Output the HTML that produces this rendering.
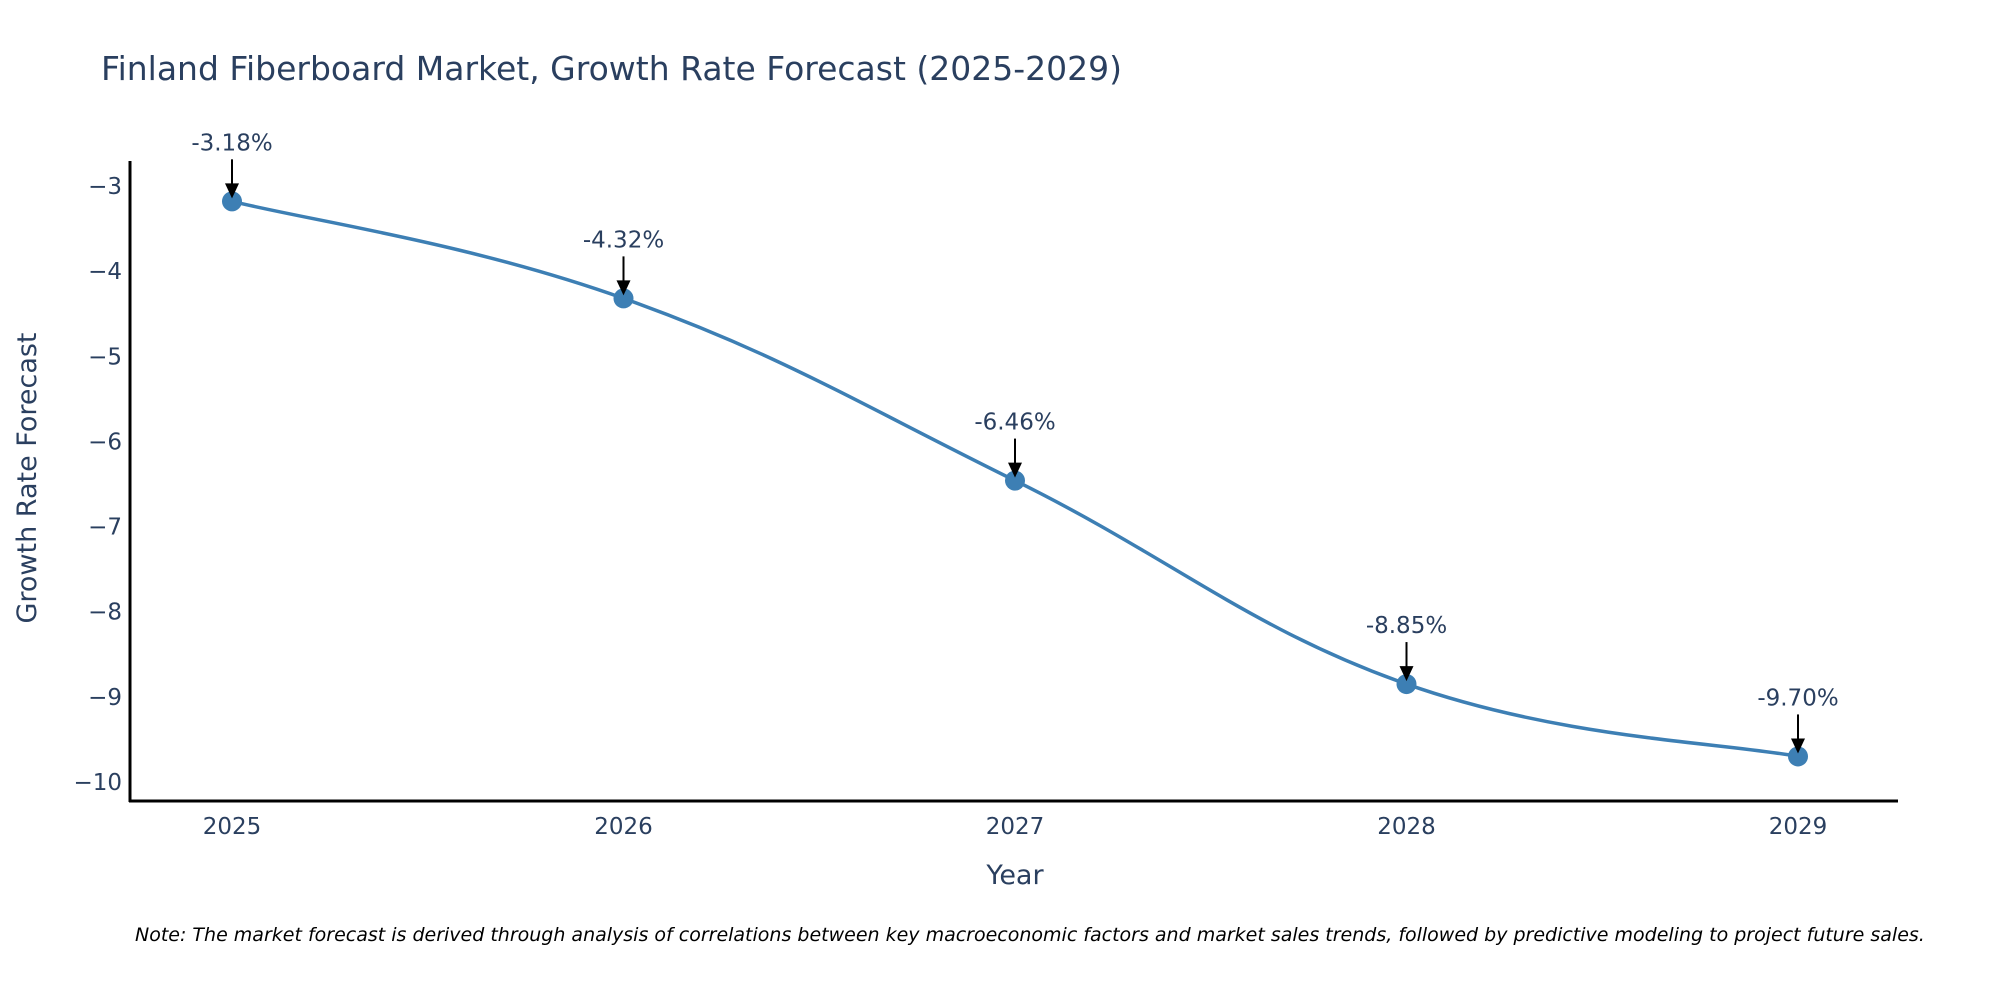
<!DOCTYPE html>
<html><head><meta charset="utf-8"><style>
html,body{margin:0;padding:0;background:#fff;}
svg text{font-family:"DejaVu Sans","Liberation Sans",sans-serif;}
</style></head><body>
<svg id="chart" width="2000" height="1000" xmlns="http://www.w3.org/2000/svg">
<text x="101" y="80" font-size="33" fill="#2a3f5f">Finland Fiberboard Market, Growth Rate Forecast (2025-2029)</text>
<g id="yticks"></g>
<g id="xticks"></g>
<line x1="130" y1="161" x2="130" y2="802" stroke="#000" stroke-width="3"/>
<line x1="129" y1="801" x2="1898" y2="801" stroke="#000" stroke-width="3"/>
<text transform="translate(36,478) rotate(-90)" text-anchor="middle" font-size="27" fill="#2a3f5f">Growth Rate Forecast</text>
<text x="1015" y="884" text-anchor="middle" font-size="27" fill="#2a3f5f">Year</text>
<g id="series"></g>
<g id="annots"></g>
<text x="135" y="941" font-size="19" font-style="italic" fill="#000">Note: The market forecast is derived through analysis of correlations between key macroeconomic factors and market sales trends, followed by predictive modeling to project future sales.</text>
</svg>
<script>
const years = [2025, 2026, 2027, 2028, 2029];
const values = [-3.18, -4.32, -6.46, -8.85, -9.70];
const labels = ["-3.18%", "-4.32%", "-6.46%", "-8.85%", "-9.70%"];
const yTicks = [-3, -4, -5, -6, -7, -8, -9, -10];
const NS = "http://www.w3.org/2000/svg";
function xs(v){ return 232 + (v - 2025) * 391.5; }
function ys(v){ return 186 + (-3 - v) * 85.14; }
function mk(tag, attrs){ const e = document.createElementNS(NS, tag); for (const k in attrs) e.setAttribute(k, attrs[k]); return e; }
const yg = document.getElementById('yticks');
yTicks.forEach(t => {
  const e = mk('text', {x: 122, y: ys(t) + 8, 'text-anchor': 'end', 'font-size': 23, fill: '#2a3f5f'});
  
  
  e.textContent = '\u2212' + Math.abs(t);
  yg.appendChild(e);
});
const xg = document.getElementById('xticks');
years.forEach(y => {
  const e = mk('text', {x: xs(y), y: 834, 'text-anchor': 'middle', 'font-size': 23, fill: '#2a3f5f'});
  
  
  e.textContent = y;
  xg.appendChild(e);
});
const pts = years.map((y, i) => [xs(y), ys(values[i])]);
let d = 'M' + pts[0][0] + ',' + pts[0][1];
const s = 0.2;
for (let i = 0; i < pts.length - 1; i++) {
  const p0 = pts[Math.max(i - 1, 0)], p1 = pts[i], p2 = pts[i + 1], p3 = pts[Math.min(i + 2, pts.length - 1)];
  const c1 = [p1[0] + (p2[0] - p0[0]) * s, p1[1] + (p2[1] - p0[1]) * s];
  const c2 = [p2[0] - (p3[0] - p1[0]) * s, p2[1] - (p3[1] - p1[1]) * s];
  d += ' C' + c1 + ' ' + c2 + ' ' + p2;
}
const sg = document.getElementById('series');
const path = mk('path', {d: d, fill: 'none', stroke: '#3d7fb4', 'stroke-width': 3.5});


sg.appendChild(path);
pts.forEach(p => {
  const c = mk('circle', {cx: p[0], cy: p[1], r: 10, fill: '#3d7fb4'});
  
  
  sg.appendChild(c);
});
const ag = document.getElementById('annots');
pts.forEach((p, i) => {
  const l = mk('line', {x1: p[0], y1: p[1] - 42, x2: p[0], y2: p[1] - 14, stroke: '#000', 'stroke-width': 2});
  
  
  ag.appendChild(l);
  const h = mk('polygon', {points: (p[0]-7)+','+(p[1]-18)+' '+(p[0]+7)+','+(p[1]-18)+' '+p[0]+','+(p[1]-3), fill: '#000'});
  
  
  ag.appendChild(h);
  const t = mk('text', {x: p[0], y: p[1] - 51, 'text-anchor': 'middle', 'font-size': 23, fill: '#2a3f5f'});
  
  
  t.textContent = labels[i];
  ag.appendChild(t);
});
</script>
</body></html>
